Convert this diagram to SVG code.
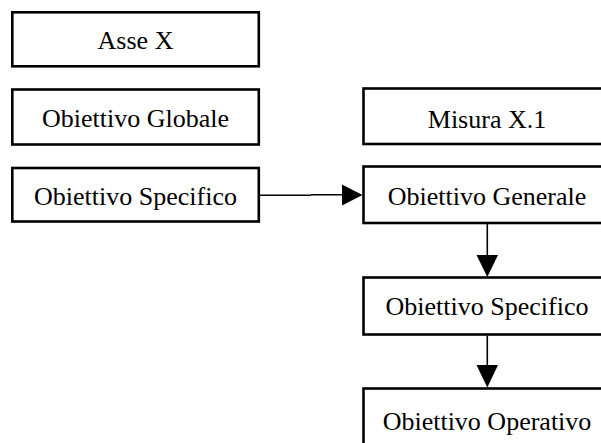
<svg xmlns="http://www.w3.org/2000/svg" width="601" height="443" viewBox="0 0 601 443">
  <style>
    .box { fill: #ffffff; stroke: #000000; stroke-width: 2.6; }
    .label { font-family: "Liberation Serif", "Times New Roman", serif; font-size: 26px; fill: #000000; text-anchor: middle; }
    .link { stroke: #000000; stroke-width: 1.6; fill: none; }
    .head { fill: #000000; }
  </style>
  <rect width="601" height="443" fill="#ffffff"/>

  <!-- left column -->
  <g id="asse-x">
    <rect class="box" x="12.3" y="12.3" width="246.5" height="54"/>
    <text class="label" x="135.5" y="49">Asse X</text>
  </g>
  <g id="obiettivo-globale">
    <rect class="box" x="12.3" y="89.5" width="246.5" height="55"/>
    <text class="label" x="135.5" y="126.5">Obiettivo Globale</text>
  </g>
  <g id="obiettivo-specifico-asse">
    <rect class="box" x="12.3" y="168" width="246.5" height="53.5"/>
    <text class="label" x="135.5" y="205">Obiettivo Specifico</text>
  </g>

  <!-- right column -->
  <g id="misura-x1">
    <rect class="box" x="363.5" y="88.5" width="250" height="55.5"/>
    <text class="label" x="487" y="127.5">Misura X.1</text>
  </g>
  <g id="obiettivo-generale">
    <rect class="box" x="363.5" y="166.5" width="250" height="56.5"/>
    <text class="label" x="487" y="205">Obiettivo Generale</text>
  </g>
  <g id="obiettivo-specifico-misura">
    <rect class="box" x="363.5" y="277.5" width="250" height="57"/>
    <text class="label" x="487" y="315">Obiettivo Specifico</text>
  </g>
  <g id="obiettivo-operativo">
    <rect class="box" x="363.5" y="388.5" width="250" height="70"/>
    <text class="label" x="487" y="430">Obiettivo Operativo</text>
  </g>

  <!-- connectors -->
  <g id="connectors">
    <path class="link" d="M259.5 195.2 H311 M311 194.8 H343"/>
    <polygon class="head" points="342,184.5 362.5,195 342,205.5"/>
    <path class="link" d="M487.3 224 V256"/>
    <polygon class="head" points="476.5,255 498,255 487.3,277"/>
    <path class="link" d="M487.3 335.5 V366"/>
    <polygon class="head" points="476.5,365 498,365 487.3,387.5"/>
  </g>
</svg>
